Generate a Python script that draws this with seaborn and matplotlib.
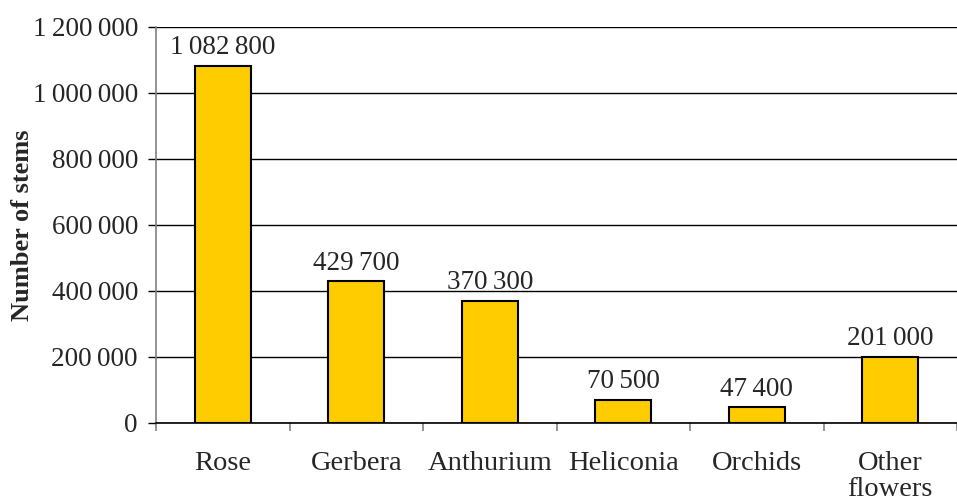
import matplotlib
matplotlib.use("Agg")
import matplotlib.pyplot as plt
import seaborn as sns
import pandas as pd
from matplotlib.ticker import FuncFormatter, MultipleLocator, FixedLocator

categories = ["Rose", "Gerbera", "Anthurium", "Heliconia", "Orchids", "Other\nflowers"]
stems = [1082800, 429700, 370300, 70500, 47400, 201000]

def spaced(v):
    return f"{int(round(v)):,}".replace(",", "\u2009")

sns.set_theme(style="white")
plt.rcParams['font.family'] = ['Liberation Serif', 'DejaVu Serif']

df = pd.DataFrame({"flower": categories, "stems": stems})

fig = plt.figure(figsize=(9.57, 5.03), dpi=100)
ax = fig.add_axes([156/957, 1-423/503, 1-156/957, (423-27)/503])

sns.barplot(data=df, x="flower", y="stems", color="#FFCC00", edgecolor="black",
            linewidth=1.5, width=0.42, saturation=1, ax=ax)

ax.set_ylim(0, 1200000)
ax.set_xlim(-0.5, len(categories) - 0.5)
ax.yaxis.set_major_locator(MultipleLocator(200000))
ax.yaxis.set_major_formatter(FuncFormatter(lambda v, p: spaced(v)))
ax.grid(axis="y", color="black", linewidth=1)
ax.set_axisbelow(True)

for s in ["top", "right"]:
    ax.spines[s].set_visible(False)
ax.spines["left"].set_color("#808080")
ax.spines["left"].set_linewidth(1.2)
ax.spines["bottom"].set_color("black")
ax.spines["bottom"].set_linewidth(1.2)

ax.tick_params(axis="y", which="major", length=6, width=1, color="black",
               labelsize=19.5, pad=7, left=True)
ax.tick_params(axis="x", which="major", length=0, labelsize=20.5, pad=20)
ax.xaxis.set_minor_locator(FixedLocator([i - 0.5 for i in range(len(categories) + 1)]))
ax.tick_params(axis="x", which="minor", length=6, width=1.2, color="#808080",
               bottom=True, direction="out")
for lbl in ax.get_xticklabels():
    lbl.set_linespacing(1.08)

ax.set_xlabel("")
ax.set_ylabel("Number of stems", fontsize=19, fontweight="bold")
ax.yaxis.set_label_coords(-122/801, 0.5)

ax.bar_label(ax.containers[0], labels=[spaced(v) for v in stems], padding=4, fontsize=19.5)

fig.savefig("out.png", dpi=100)
